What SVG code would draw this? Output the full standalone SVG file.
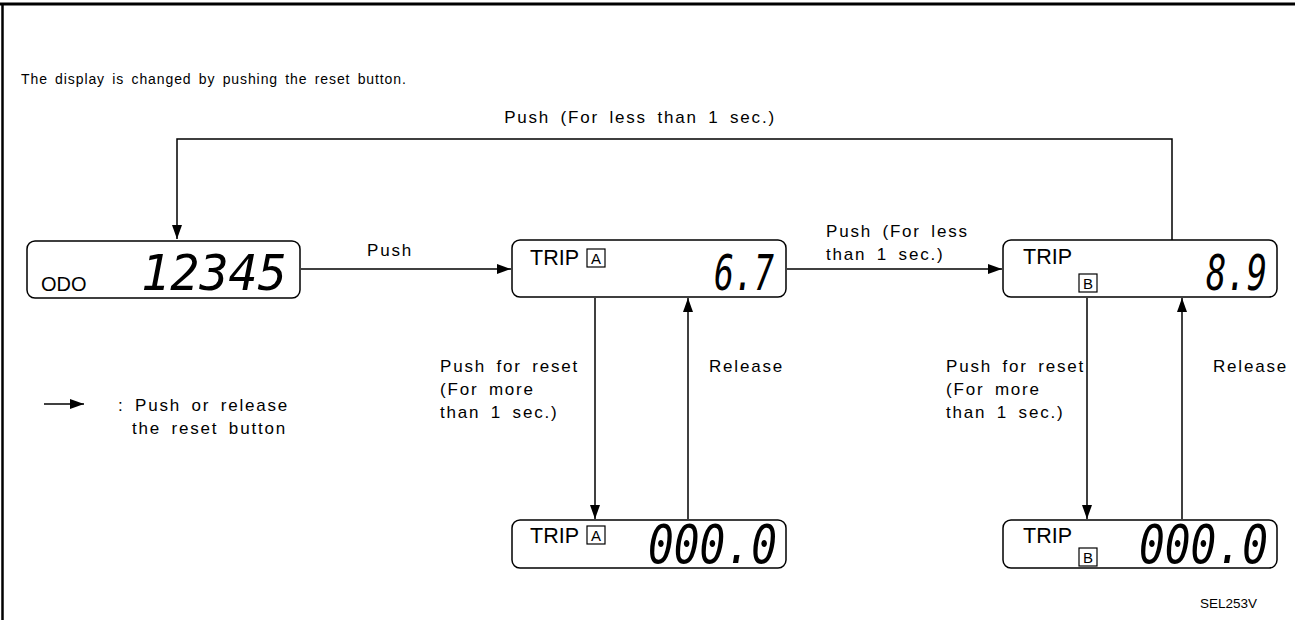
<svg xmlns="http://www.w3.org/2000/svg" width="1295" height="620" viewBox="0 0 1295 620">
<style>
.t{font-family:"Liberation Sans",Arial,sans-serif;font-size:17px;fill:#000;word-spacing:4px;letter-spacing:1.8px}
.ti{font-family:"Liberation Sans",Arial,sans-serif;font-size:14px;fill:#000;word-spacing:2.5px;letter-spacing:0.9px}
.lbl{font-family:"Liberation Sans",Arial,sans-serif;font-size:21.5px;fill:#000}
.sml{font-family:"Liberation Sans",Arial,sans-serif;font-size:15px;fill:#000}
.dig{font-family:"DejaVu Sans Mono",monospace;font-style:italic;font-size:50px;fill:#000}
.box{fill:#fff;stroke:#000;stroke-width:1.5}
.ln{fill:none;stroke:#000;stroke-width:1.5}
.sq{fill:none;stroke:#000;stroke-width:1.2}
</style>
<defs>
<marker id="ah" markerWidth="14" markerHeight="10" refX="14" refY="5" orient="auto" markerUnits="userSpaceOnUse">
<path d="M0,0 L14,5 L0,10 Z" fill="#000"/>
</marker>
</defs>
<rect width="1295" height="620" fill="#fff"/>
<line x1="0" y1="4" x2="1295" y2="4" stroke="#000" stroke-width="3"/>
<line x1="2.5" y1="3" x2="2.5" y2="620" stroke="#000" stroke-width="2.5"/>
<text class="ti" x="21" y="84">The display is changed by pushing the reset button.</text>
<text class="t" x="640" y="123" text-anchor="middle">Push (For less than 1 sec.)</text>

<g id="connectors">
<polyline class="ln" points="1172,241 1172,139 177,139 177,239" marker-end="url(#ah)"/>
<line class="ln" x1="301" y1="269" x2="511" y2="269" marker-end="url(#ah)"/>
<line class="ln" x1="787" y1="269" x2="1002" y2="269" marker-end="url(#ah)"/>
<line class="ln" x1="595" y1="298" x2="595" y2="519" marker-end="url(#ah)"/>
<line class="ln" x1="688" y1="519" x2="688" y2="298" marker-end="url(#ah)"/>
<line class="ln" x1="1087" y1="298" x2="1087" y2="519" marker-end="url(#ah)"/>
<line class="ln" x1="1182" y1="519" x2="1182" y2="298" marker-end="url(#ah)"/>
<text class="t" x="367" y="256">Push</text>
<text class="t" x="826" y="237">Push (For less</text>
<text class="t" x="826" y="260">than 1 sec.)</text>
<text class="t" x="440" y="372">Push for reset</text>
<text class="t" x="440" y="395">(For more</text>
<text class="t" x="440" y="418">than 1 sec.)</text>
<text class="t" x="709" y="372">Release</text>
<text class="t" x="946" y="372">Push for reset</text>
<text class="t" x="946" y="395">(For more</text>
<text class="t" x="946" y="418">than 1 sec.)</text>
<text class="t" x="1213" y="372">Release</text>
</g>

<g id="odo">
<rect class="box" x="27" y="241" width="273" height="57" rx="8"/>
<text class="lbl" x="41" y="291" style="font-size:20px">ODO</text>
<text class="dig" x="141" y="290" textLength="146" lengthAdjust="spacingAndGlyphs">12345</text>
</g>

<g id="tripA">
<rect class="box" x="512" y="240" width="274" height="57" rx="8"/>
<text class="lbl" x="530" y="265">TRIP</text>
<rect class="sq" x="587" y="249" width="18" height="18"/>
<text class="sml" x="596" y="264" text-anchor="middle">A</text>
<text class="dig" x="714" y="290" textLength="60" lengthAdjust="spacingAndGlyphs">6.7</text>
</g>

<g id="tripB">
<rect class="box" x="1003" y="240" width="274" height="57" rx="8"/>
<text class="lbl" x="1023" y="264">TRIP</text>
<rect class="sq" x="1079" y="274" width="18" height="18"/>
<text class="sml" x="1088" y="289" text-anchor="middle">B</text>
<text class="dig" x="1206" y="290" textLength="61" lengthAdjust="spacingAndGlyphs">8.9</text>
</g>

<g id="tripA-reset">
<rect class="box" x="512" y="520" width="274" height="48" rx="8"/>
<text class="lbl" x="530" y="543">TRIP</text>
<rect class="sq" x="587" y="526" width="18" height="18"/>
<text class="sml" x="596" y="541" text-anchor="middle">A</text>
<text class="dig" x="648" y="563" textLength="129" lengthAdjust="spacingAndGlyphs" style="font-size:54px">000.0</text>
</g>

<g id="tripB-reset">
<rect class="box" x="1003" y="520" width="274" height="48" rx="8"/>
<text class="lbl" x="1023" y="543">TRIP</text>
<rect class="sq" x="1079" y="548" width="18" height="18"/>
<text class="sml" x="1088" y="563" text-anchor="middle">B</text>
<text class="dig" x="1139" y="563" textLength="129" lengthAdjust="spacingAndGlyphs" style="font-size:54px">000.0</text>
</g>

<g id="legend">
<line class="ln" x1="44" y1="404" x2="84" y2="404" marker-end="url(#ah)"/>
<text class="t" x="118" y="411">: Push or release</text>
<text class="t" x="132" y="434">the reset button</text>
</g>
<text x="1200" y="608" style="font-family:'Liberation Sans',Arial,sans-serif;font-size:13.5px">SEL253V</text>
</svg>
